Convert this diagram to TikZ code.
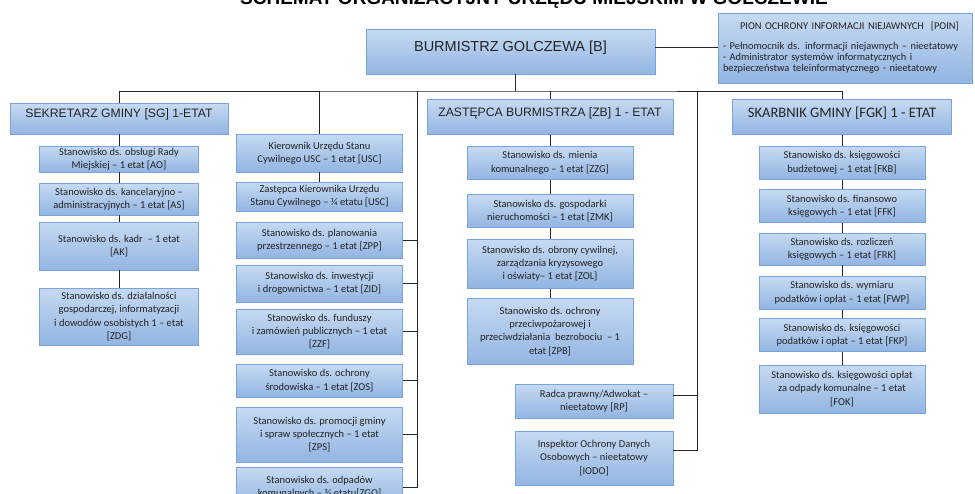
\documentclass[tikz,border=0pt]{standalone}
\usepackage{fontspec}
\setmainfont{Carlito}
\newfontfamily\arialfont{Liberation Sans}
\usepackage{tikz}
\usetikzlibrary{calc}

\definecolor{boxtop}{RGB}{198,218,242}
\definecolor{boxbottom}{RGB}{146,181,226}
\definecolor{boxline}{RGB}{121,164,219}
\definecolor{ink}{RGB}{35,35,35}

\begin{document}
\begin{tikzpicture}[x=1pt,y=-1pt,
        unit/.style={draw=boxline,line width=0.8pt,top color=boxtop,bottom color=boxbottom,
            text=ink,align=center,inner sep=1pt,font=\fontsize{10.5}{13.4}\selectfont},
        head/.style={unit,inner ysep=0pt,font=\arialfont\fontsize{12.2}{14}\selectfont},
        link/.style={draw=black!85,line width=0.8pt}]
        % fix the page size
        \useasboundingbox (0,0) rectangle (975,493);
        \clip (0,0) rectangle (975,493);

        % the title, cut at the top edge
        \node[anchor=base,text=black,font=\arialfont\bfseries\fontsize{19}{20}\selectfont] (title) at (534,4.5)
            {SCHEMAT ORGANIZACYJNY URZĘDU MIEJSKIM W GOLCZEWIE};

        % the mayor and the security unit
        \node[head,minimum width=289,minimum height=45,text height=22.4pt,text depth=22.6pt,
              font=\arialfont\fontsize{14.5}{16}\selectfont] (B) at (510.5,51.5) {BURMISTRZ GOLCZEWA [B]};
        \node[unit,minimum width=254,minimum height=70,text width=244pt,inner xsep=5pt,align=left,
              font=\fontsize{10.4}{11}\selectfont] (POIN) at (845,48)
            {\hspace*{17pt}PION OCHRONY INFORMACJI NIEJAWNYCH\ \ [POIN]\\[9pt]
             - Pełnomocnik ds. informacji niejawnych – nieetatowy\\
             - Administrator systemów informatycznych i\\
             bezpieczeństwa teleinformatycznego - nieetatowy};

        % the heads of the columns
        \node[head,minimum width=218,minimum height=31,text height=14pt,text depth=17pt] (SG) at (119,118.5)
            {SEKRETARZ GMINY [SG] 1-ETAT};
        \node[head,minimum width=246,minimum height=35,text height=16.8pt,text depth=18.2pt] (ZB) at (550,116.8)
            {ZASTĘPCA BURMISTRZA [ZB] 1 - ETAT};
        \node[head,minimum width=219,minimum height=35,text height=18.4pt,text depth=16.6pt,
              font=\fontsize{14.5}{16}\selectfont] (FGK) at (842,116.8)
            {SKARBNIK GMINY [FGK] 1 - ETAT};

        % first column
        \foreach \n/\y/\h/\txt in {
            AO/159/26/{Stanowisko ds. obsługi Rady\\Miejskiej – 1 etat [AO]},
            AS/199/32/{Stanowisko ds. kancelaryjno –\\administracyjnych – 1 etat [AS]},
            AK/246/48/{Stanowisko ds. kadr\ \ – 1 etat\\{[AK]}},
            ZDG/316.5/57/{Stanowisko ds. działalności\\gospodarczej, informatyzacji\\i dowodów osobistych 1 – etat\\{[ZDG]}}}
                \node[unit,minimum width=159,minimum height=\h] (\n) at (119,\y) {\txt};

        % second column
        \foreach \n/\y/\h/\txt in {
            USC1/153/38/{Kierownik Urzędu Stanu\\Cywilnego USC – 1 etat [USC]},
            USC2/196.5/29/{Zastępca Kierownika Urzędu\\Stanu Cywilnego – ¼ etatu [USC]},
            ZPP/240/36/{Stanowisko ds. planowania\\przestrzennego – 1 etat [ZPP]},
            ZID/283.5/37/{Stanowisko ds. inwestycji\\i drogownictwa – 1 etat [ZID]},
            ZZF/331.5/45/{Stanowisko ds. funduszy\\i zamówień publicznych – 1 etat\\{[ZZF]}},
            ZOS/380.5/33/{Stanowisko ds. ochrony\\środowiska – 1 etat [ZOS]},
            ZPS/434.5/55/{Stanowisko ds. promocji gminy\\i spraw społecznych – 1 etat\\{[ZPS]}},
            ZGO/487/40/{Stanowisko ds. odpadów\\komunalnych – ¾ etatu[ZGO]}}
                \node[unit,minimum width=166,minimum height=\h] (\n) at (319.5,\y) {\txt};

        % third column
        \foreach \n/\y/\h/\txt in {
            ZZG/162.7/33/{Stanowisko ds. mienia\\komunalnego – 1 etat [ZZG]},
            ZMK/211.3/33/{Stanowisko ds. gospodarki\\nieruchomości – 1 etat [ZMK]},
            ZOL/263.7/49/{Stanowisko ds. obrony cywilnej,\\zarządzania kryzysowego\\i oświaty– 1 etat [ZOL]},
            ZPB/331.3/66/{Stanowisko ds. ochrony\\przeciwpożarowej i\\przeciwdziałania\ \ bezrobociu\ \ – 1\\etat [ZPB]}}
                \node[unit,minimum width=166,minimum height=\h] (\n) at (550,\y) {\txt};
        \node[unit,minimum width=158,minimum height=34] (RP) at (594,401)
            {Radca prawny/Adwokat –\\nieetatowy [RP]};
        \node[unit,minimum width=158,minimum height=54] (IODO) at (594,458)
            {Inspektor Ochrony Danych\\Osobowych – nieetatowy\\{[IODO]}};

        % fourth column
        \foreach \n/\y/\h/\txt in {
            FKB/162.7/33/{Stanowisko ds. księgowości\\budżetowej – 1 etat [FKB]},
            FFK/206/33/{Stanowisko ds. finansowo\\księgowych – 1 etat [FFK]},
            FRK/249/32/{Stanowisko ds. rozliczeń\\księgowych – 1 etat [FRK]},
            FWP/292.7/33/{Stanowisko ds. wymiaru\\podatków i opłat – 1 etat [FWP]},
            FKP/335.3/33/{Stanowisko ds. księgowości\\podatków i opłat – 1 etat [FKP]},
            FOK/389/48/{Stanowisko ds. księgowości opłat\\za odpady komunalne – 1 etat\\{[FOK]}}}
                \node[unit,minimum width=166,minimum height=\h] (\n) at (842,\y) {\txt};

        % draw the bus under the mayor
        \coordinate (bus) at (515,91);
        \coordinate (spineL) at (417,91);
        \coordinate (spineR) at (697,91);
        \draw[link] ([xshift=4.5pt]B.south) -- (bus);
        \draw[link] (SG.north) |- (bus) -| (FGK.north);
        \draw[link] (USC1.north) -- (USC1.north |- bus);
        \draw[link] (ZB.north) -- (ZB.north |- bus);
        \draw[link] ([yshift=4pt]B.east) -- ([yshift=4pt]B.east -| POIN.west);

        % the two side lines
        \draw[link] (spineL) |- (ZGO.east);
        \foreach \n in {ZPP,ZID,ZZF,ZOS,ZPS}
                \draw[link] (\n.east) -- (\n.east -| spineL);
        \draw[link] (spineR) |- ([yshift=8pt]IODO.east);
        \draw[link] ([yshift=6pt]RP.east) -- ([yshift=6pt]RP.east -| spineR);

        % lines down each column
        \foreach \a/\b in {SG/AO,AO/AS,AS/AK,AK/ZDG,USC1/USC2,
                           ZB/ZZG,ZZG/ZMK,ZMK/ZOL,ZOL/ZPB,
                           FGK/FKB,FKB/FFK,FFK/FRK,FRK/FWP,FWP/FKP,FKP/FOK}
                \draw[link] (\a) -- (\b);
\end{tikzpicture}
\end{document}
